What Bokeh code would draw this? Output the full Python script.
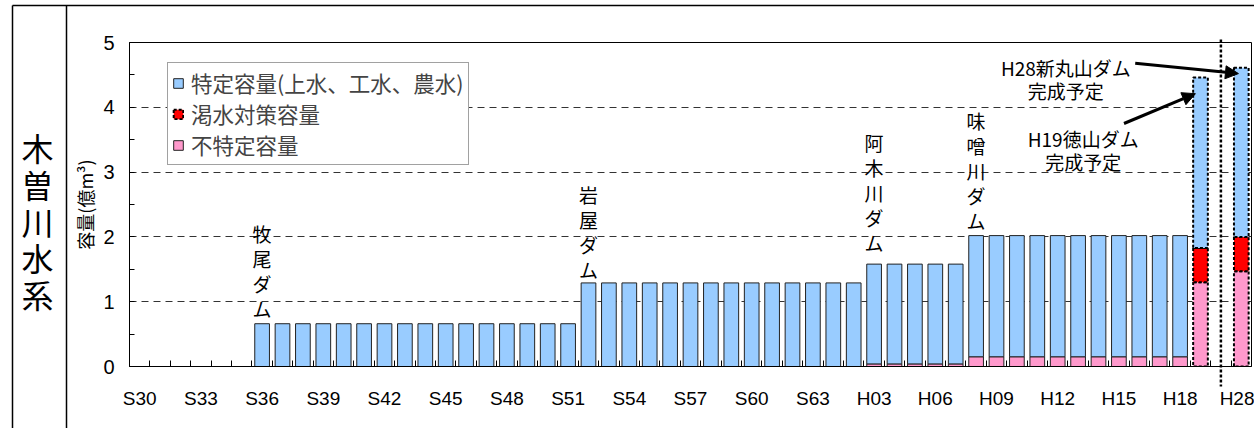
from bokeh.plotting import figure
from bokeh.models import (Range1d, FixedTicker, ColumnDataSource, Legend, LegendItem,
                          Arrow, NormalHead)
from bokeh.embed import file_html
from bokeh.resources import INLINE
from bokeh.core.properties import value

# Fiscal years on the category axis; the empty entry is a spacer column before H28
categories = [
    "S30", "S31", "S32", "S33", "S34", "S35", "S36", "S37", "S38", "S39",
    "S40", "S41", "S42", "S43", "S44", "S45", "S46", "S47", "S48", "S49",
    "S50", "S51", "S52", "S53", "S54", "S55", "S56", "S57", "S58", "S59",
    "S60", "S61", "S62", "S63", "H01", "H02", "H03", "H04", "H05", "H06",
    "H07", "H08", "H09", "H10", "H11", "H12", "H13", "H14", "H15", "H16",
    "H17", "H18", "H19", "", "H28",
]

# Storage capacity (100 million m3)
tokutei = [  # water supply (municipal, industrial, agricultural)
    0, 0, 0, 0, 0, 0, 0.66, 0.66, 0.66, 0.66,
    0.66, 0.66, 0.66, 0.66, 0.66, 0.66, 0.66, 0.66, 0.66, 0.66,
    0.66, 0.66, 1.29, 1.29, 1.29, 1.29, 1.29, 1.29, 1.29, 1.29,
    1.29, 1.29, 1.29, 1.29, 1.29, 1.29, 1.54, 1.54, 1.54, 1.54,
    1.54, 1.87, 1.87, 1.87, 1.87, 1.87, 1.87, 1.87, 1.87, 1.87,
    1.87, 1.87, 2.63, 0, 2.61,
]
katsusui = [  # drought countermeasure
    0, 0, 0, 0, 0, 0, 0, 0, 0, 0,
    0, 0, 0, 0, 0, 0, 0, 0, 0, 0,
    0, 0, 0, 0, 0, 0, 0, 0, 0, 0,
    0, 0, 0, 0, 0, 0, 0, 0, 0, 0,
    0, 0, 0, 0, 0, 0, 0, 0, 0, 0,
    0, 0, 0.53, 0, 0.53,
]
futokutei = [  # river maintenance flow
    0, 0, 0, 0, 0, 0, 0, 0, 0, 0,
    0, 0, 0, 0, 0, 0, 0, 0, 0, 0,
    0, 0, 0, 0, 0, 0, 0, 0, 0, 0,
    0, 0, 0, 0, 0, 0, 0.04, 0.04, 0.04, 0.04,
    0.04, 0.15, 0.15, 0.15, 0.15, 0.15, 0.15, 0.15, 0.15, 0.15,
    0.15, 0.15, 1.30, 0, 1.47,
]
planned_years = ["H19", "H28"]

dam_names = ["牧尾ダム", "岩屋ダム", "阿木川ダム", "味噌川ダム"]
dam_first_year = ["S36", "S52", "H03", "H08"]

notes = [["H28新丸山ダム", "完成予定"], ["H19徳山ダム", "完成予定"]]
note_targets = ["H28", "H19"]

series_labels = ["特定容量(上水、工水、農水)", "渇水対策容量", "不特定容量"]
system_name = "木曽川水系"
y_title = "容量(億m³)"

# ---- layout / style ----
W, H = 1254, 428
FL, FR, FT, FB = 129, 1251, 42, 366          # plot frame edges (pixels)
BLUE, RED, PINK = "#99CCFF", "#FF0000", "#FF99CC"
JP = value("Noto Sans CJK JP")
BAR_W = 0.72

n = len(categories)
xc = [i + 0.5 for i in range(n)]

p = figure(width=W, height=H, x_range=Range1d(0, n), y_range=Range1d(0, 5),
           output_backend="svg", toolbar_location=None,
           min_border_left=FL, min_border_right=W - FR,
           min_border_top=FT, min_border_bottom=H - FB,
           background_fill_color="white", border_fill_color="white")
# pixel-space ranges for decorations around the chart
p.extra_x_ranges = {"px": Range1d(FL, FR)}
p.extra_y_ranges = {"px": Range1d(FB, FT)}
p.outline_line_color = "black"
p.outline_line_width = 1

# axes
p.xaxis.ticker = FixedTicker(ticks=xc[::3], minor_ticks=list(range(1, n)))
p.xaxis.major_label_overrides = {xc[i]: categories[i] for i in range(0, n, 3)}
p.xaxis.major_tick_line_color = None
p.xaxis.minor_tick_in = 6
p.xaxis.minor_tick_out = 0
p.xaxis.minor_tick_line_color = "black"
p.xaxis.axis_line_color = "black"
p.xaxis.major_label_standoff = 15
p.xaxis.major_label_text_font = "Liberation Sans"
p.xaxis.major_label_text_font_size = "19px"
p.xaxis.major_label_text_color = "black"

p.yaxis.ticker = FixedTicker(ticks=[0, 1, 2, 3, 4, 5],
                             minor_ticks=[0.5, 1.5, 2.5, 3.5, 4.5])
p.yaxis.major_tick_in = 5
p.yaxis.major_tick_out = 0
p.yaxis.minor_tick_in = 5
p.yaxis.minor_tick_out = 0
p.yaxis.major_tick_line_color = "black"
p.yaxis.minor_tick_line_color = "black"
p.yaxis.axis_line_color = "black"
p.yaxis.major_label_standoff = 15
p.yaxis.major_label_text_font = "Liberation Sans"
p.yaxis.major_label_text_font_size = "20px"
p.yaxis.major_label_text_color = "black"
p.yaxis.axis_label = y_title
p.yaxis.axis_label_text_font = "Noto Sans CJK JP"
p.yaxis.axis_label_text_font_size = "18px"
p.yaxis.axis_label_text_font_style = "normal"
p.yaxis.axis_label_text_color = "black"
p.yaxis.axis_label_standoff = 2

p.xgrid.visible = False
p.ygrid.ticker = FixedTicker(ticks=[1, 2, 3, 4])
p.ygrid.grid_line_color = "#333333"
p.ygrid.grid_line_dash = "7 5"
p.ygrid.grid_line_width = 1


def subset(keep):
    idx = [i for i in range(n) if keep(i)]
    return ColumnDataSource(dict(
        x=[xc[i] for i in idx],
        futokutei=[futokutei[i] for i in idx],
        katsusui=[katsusui[i] for i in idx],
        tokutei=[tokutei[i] for i in idx],
    ))


total = [futokutei[i] + katsusui[i] + tokutei[i] for i in range(n)]
built_src = subset(lambda i: categories[i] not in planned_years and total[i] > 0)
plan_src = subset(lambda i: categories[i] in planned_years)

built = p.vbar_stack(["futokutei", "tokutei"], x="x", width=BAR_W,
                     fill_color=[PINK, BLUE], line_color="#222222", line_width=1,
                     source=built_src)
plan = p.vbar_stack(["futokutei", "katsusui", "tokutei"], x="x", width=BAR_W,
                    fill_color=[PINK, RED, BLUE], line_color="black",
                    line_width=2, line_dash="3 2", source=plan_src)

# legend box: top edge at y=73 px, left edge at x=167 px
LEG_PAD, LEG_ROW = 4, 28
leg_h = 2 * LEG_PAD + 3 * LEG_ROW
legend = Legend(items=[
    LegendItem(label=series_labels[0], renderers=[built[1]]),
    LegendItem(label=series_labels[1], renderers=[plan[1]]),
    LegendItem(label=series_labels[2], renderers=[built[0]]),
], location=(167 - FL, FB - 73 - leg_h), margin=0, padding=LEG_PAD, spacing=0,
    glyph_width=12, glyph_height=12, label_standoff=7, label_height=LEG_ROW,
    label_text_font="Noto Sans CJK JP", label_text_font_size="21.5px",
    border_line_color="#444444", border_line_width=1,
    background_fill_color="white", background_fill_alpha=1)
p.add_layout(legend)

# vertical dam-name labels above the first year of each dam
PITCH = 25
dam_gap = [15, 13, 22, 15]
for name, yr, gap in zip(dam_names, dam_first_year, dam_gap):
    i = categories.index(yr)
    k = len(name)
    p.text(x=[xc[i]] * k, y=[total[i]] * k, text=list(name),
           y_offset=[-(gap + (k - 1 - j) * PITCH) for j in range(k)],
           text_font=JP, text_font_size="19px", text_color="black",
           text_align="center", text_baseline="middle")

# notes for the planned dams, with arrows to their bars
note_pos = [(45.9, 4.61), (46.75, 3.52)]
note_tail = [(49.3, 4.68), (48.75, 3.75)]
tip_shift = [(-0.14, -0.09), (-0.25, -0.25)]
for lines, yr, (nx, ny), (tx, ty), (dx, dy) in zip(notes, note_targets, note_pos,
                                                    note_tail, tip_shift):
    i = categories.index(yr)
    p.text(x=[nx, nx], y=[ny, ny], text=lines, y_offset=[0, 23],
           text_font=JP, text_font_size="19px", text_color="black",
           text_align="center", text_baseline="middle")
    p.add_layout(Arrow(end=NormalHead(size=13, fill_color="black", line_color="black"),
                       x_start=tx, y_start=ty, x_end=xc[i] + dx, y_end=total[i] + dy,
                       line_width=3, line_color="black"))

# dotted divider through the spacer column, running below the axis
gap_x = xc[categories.index("")]
p.segment(x0=[gap_x], y0=[FT - 3], x1=[gap_x], y1=[386], y_range_name="px",
          line_color="black", line_width=2.5, line_dash="3 2", level="overlay")

# outer table frame and the water-system cell on the left
p.segment(x0=[12, 12, 66], y0=[5, 5, 5], x1=[W, 12, 66], y1=[5, H, H],
          x_range_name="px", y_range_name="px",
          line_color="black", line_width=1.5, level="overlay")
k = len(system_name)
p.text(x=[37] * k, y=[220 + (j - (k - 1) / 2) * 36.7 for j in range(k)],
       text=list(system_name), x_range_name="px", y_range_name="px",
       text_font=JP, text_font_size="32px", text_color="black",
       text_align="center", text_baseline="middle", level="overlay")

open("out.html", "w").write(file_html(p, INLINE))
